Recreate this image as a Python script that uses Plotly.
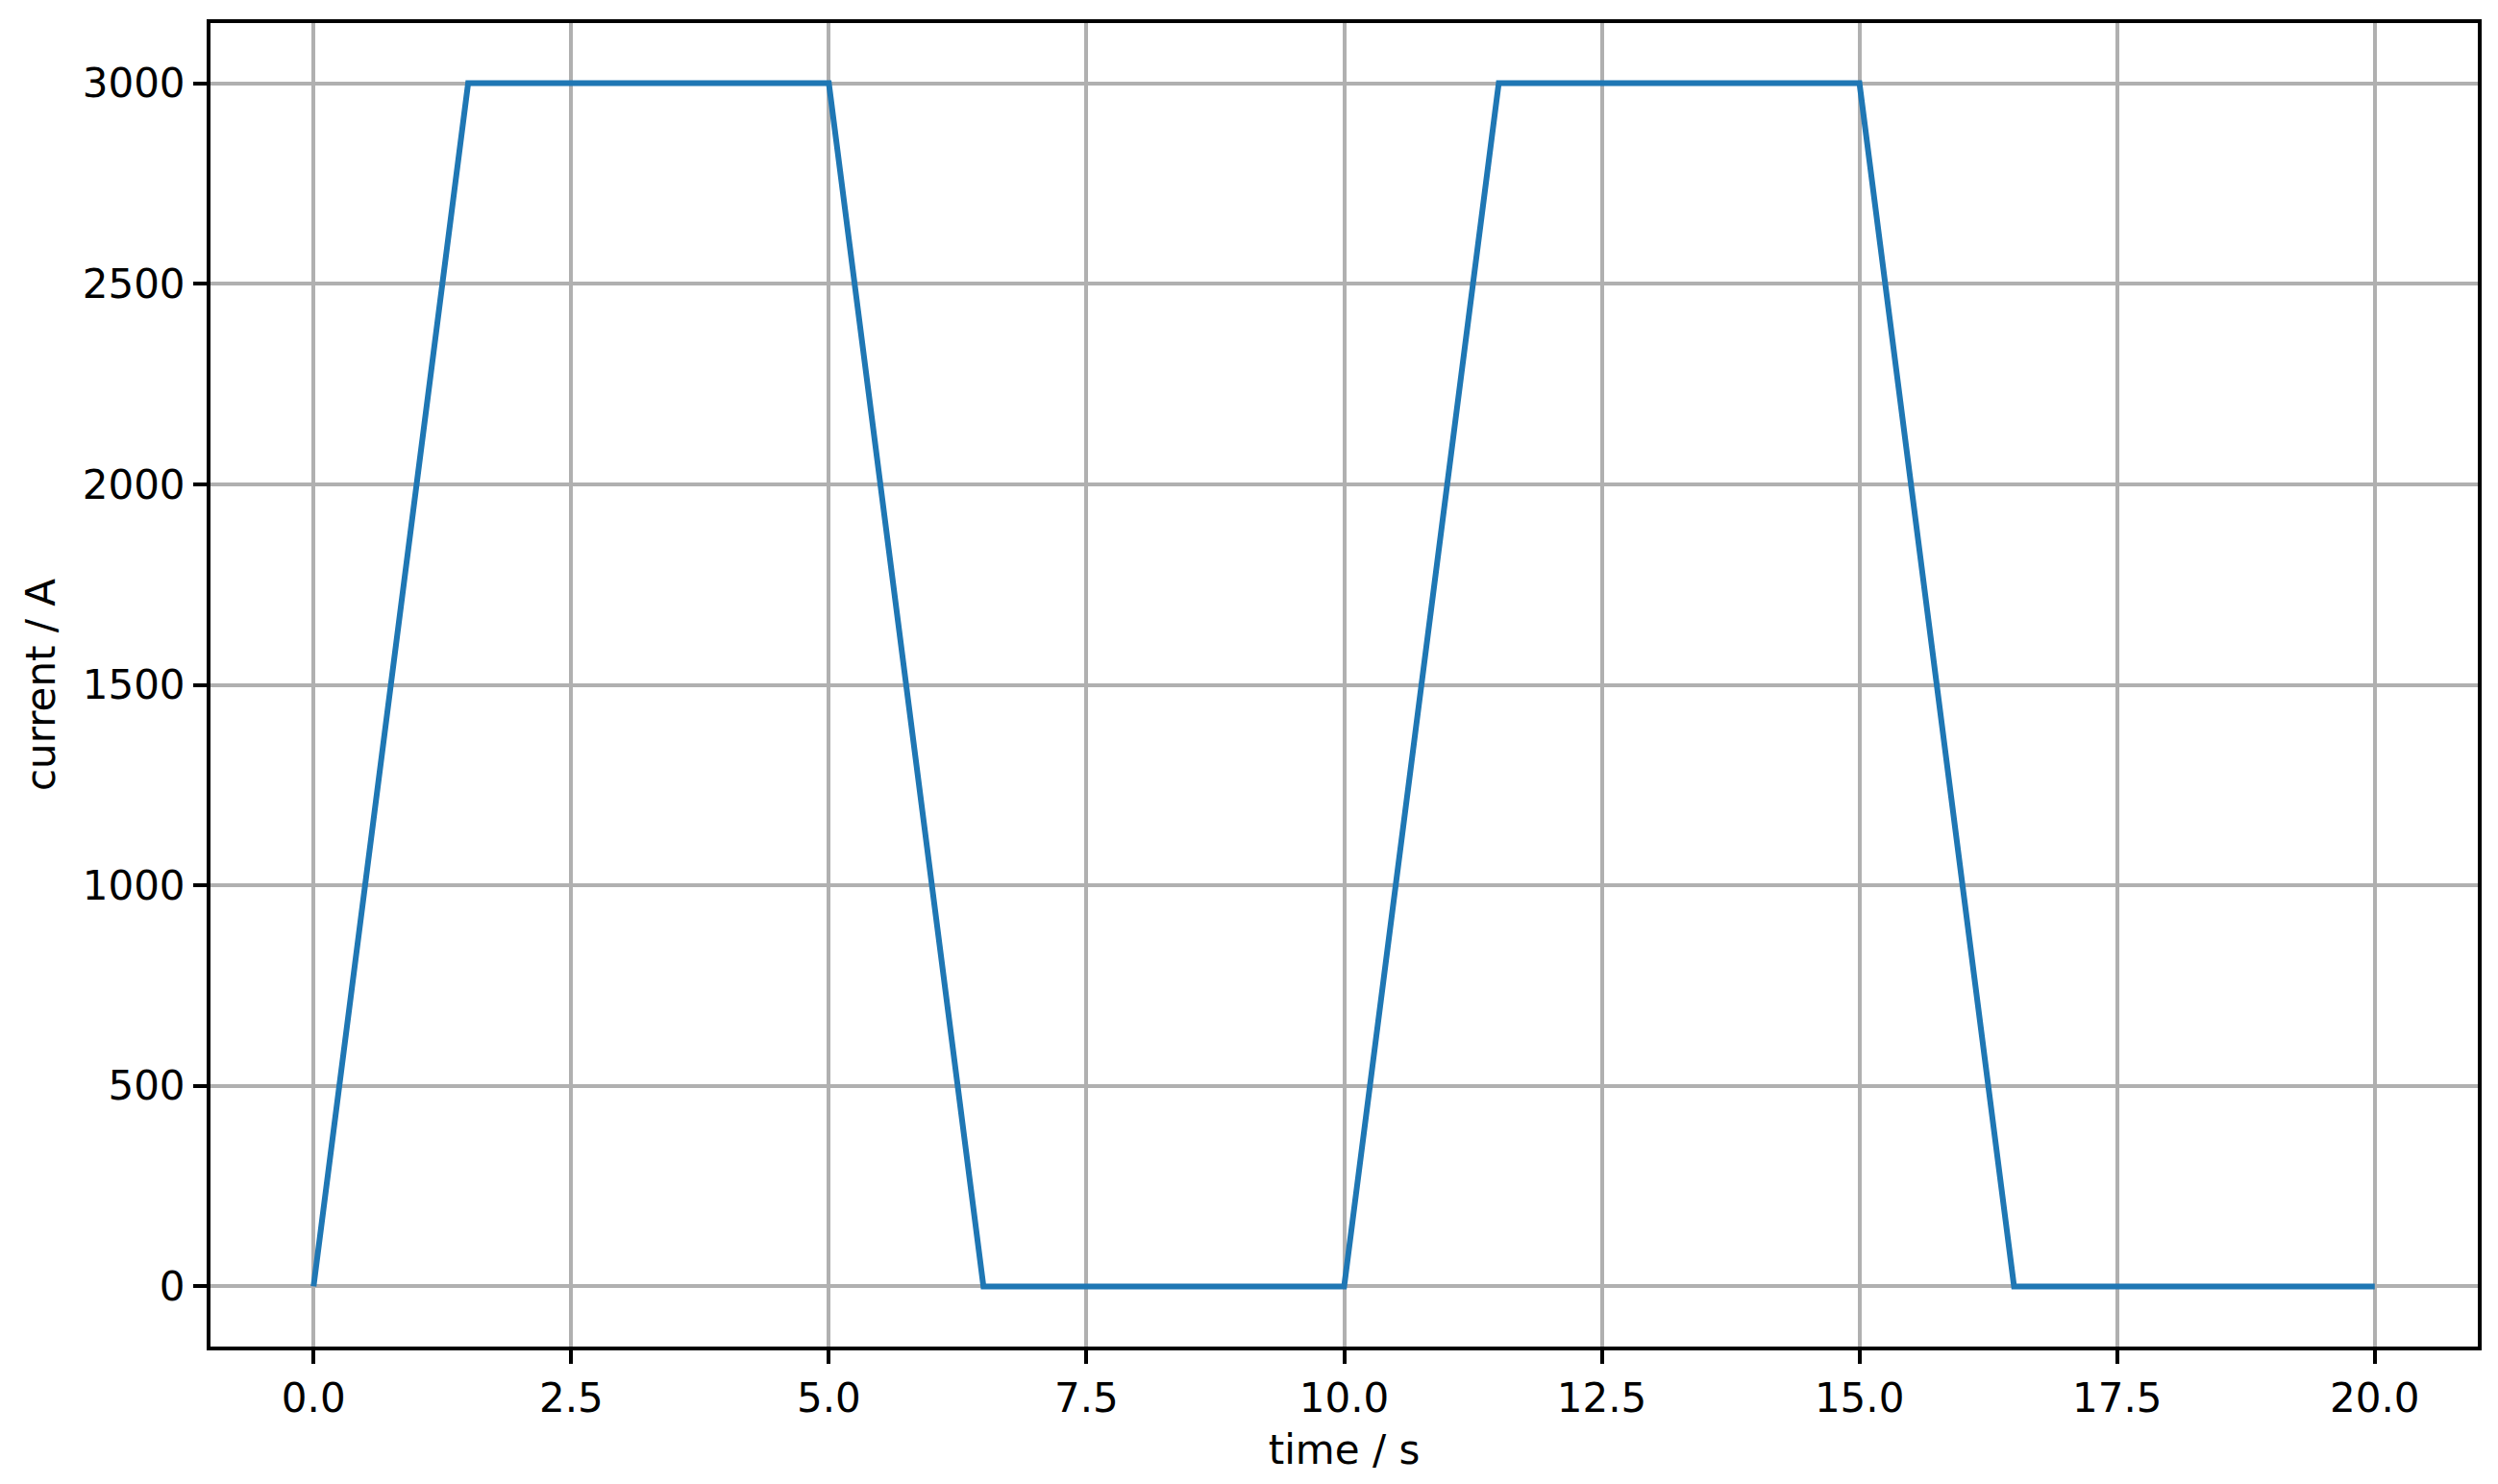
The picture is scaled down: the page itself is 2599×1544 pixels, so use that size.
import plotly.graph_objects as go

time_s = [0, 1.5, 5, 6.5, 10, 11.5, 15, 16.5, 20]
current_a = [0, 3000, 3000, 0, 0, 3000, 3000, 0, 0]
x_ticks = [0, 2.5, 5, 7.5, 10, 12.5, 15, 17.5, 20]
x_ticklabels = ["0.0", "2.5", "5.0", "7.5", "10.0", "12.5", "15.0", "17.5", "20.0"]
y_ticks = [0, 500, 1000, 1500, 2000, 2500, 3000]

FONT = "DejaVu Sans"

fig = go.Figure()
fig.add_trace(go.Scatter(x=time_s, y=current_a, mode="lines",
                         line=dict(color="#1f77b4", width=6)))

axis_common = dict(
    showline=True, linecolor="black", linewidth=4, mirror=True,
    showgrid=True, gridcolor="#b0b0b0", gridwidth=4,
    zeroline=False,
    ticks="outside", ticklen=14, tickwidth=4, tickcolor="black",
    tickfont=dict(family=FONT, size=42, color="black"),
)

fig.update_layout(
    width=2599, height=1544,
    margin=dict(l=219, r=21, t=24, b=143),
    paper_bgcolor="white", plot_bgcolor="white",
    showlegend=False,
    font=dict(family=FONT, size=42, color="black"),
    xaxis=dict(range=[-1, 21], tickvals=x_ticks, ticktext=x_ticklabels,
               title=dict(text="time / s", font=dict(family=FONT, size=42), standoff=16),
               **axis_common),
    yaxis=dict(range=[-150, 3150], tickvals=y_ticks,
               title=dict(text="current / A", font=dict(family=FONT, size=42), standoff=16),
               **axis_common),
)

fig.write_html("out.html", config={"displayModeBar": False},
               post_script="document.body.style.margin='0';")
